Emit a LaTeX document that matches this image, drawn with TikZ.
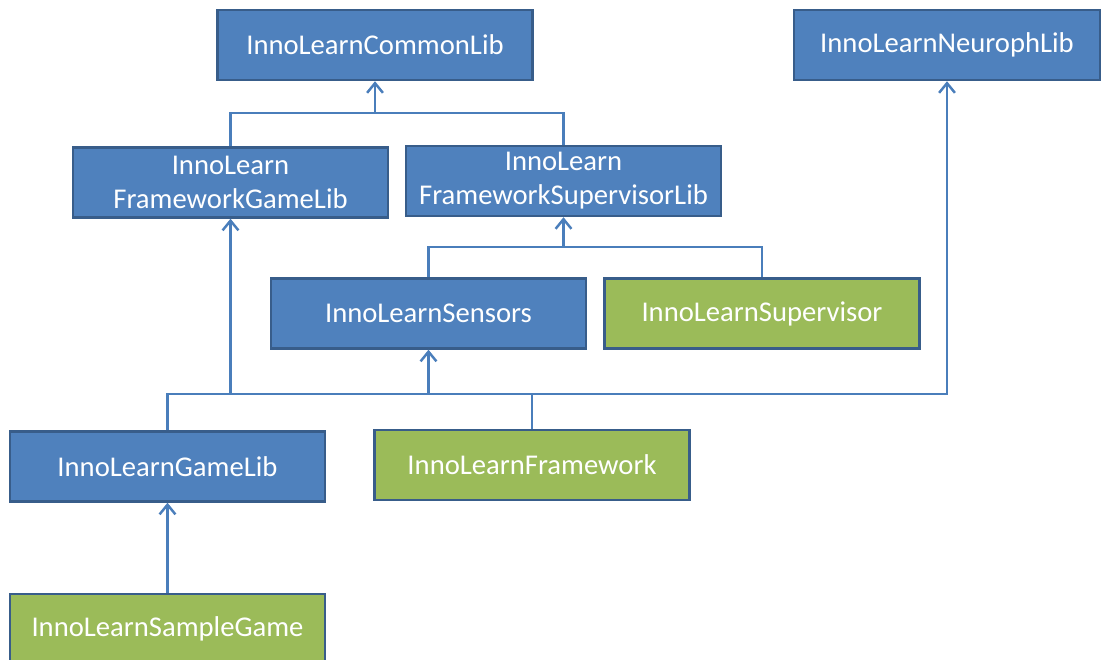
\documentclass[tikz,border=0pt]{standalone}
\usepackage{fontspec}
\setmainfont{Carlito}
\usetikzlibrary{arrows.meta}
\definecolor{boxblue}{HTML}{4F81BD}
\definecolor{boxgreen}{HTML}{9BBB59}
\definecolor{edgeblue}{HTML}{385D8A}
\definecolor{lineblue}{HTML}{4A7EBB}
\begin{document}
\begin{tikzpicture}[x=0.02cm, y=-0.02cm,
        lib/.style={rectangle, draw=edgeblue, line width=1.4pt, fill=boxblue, text=white,
            minimum width=6.3cm, minimum height=1.4cm, inner sep=0pt, align=center,
            font=\fontsize{16.3}{19.3}\selectfont},
        app/.style={lib, fill=boxgreen},
        link/.style={draw=lineblue, line width=1.4pt},
        uses/.style={link, -{Straight Barb[length=5.5pt, width=9pt]}}]
        \useasboundingbox (0,0) rectangle (1104,659);
        % Nodes
        \node[lib] (common) at (375,45) {InnoLearnCommonLib};
        \node[lib, minimum width=6.12cm] (neuroph) at (947,45) {InnoLearnNeurophLib};
        \node[lib] (fgame) at (230.5,182.5) {InnoLearn\\FrameworkGameLib};
        \node[lib] (fsup) at (563.5,181) {InnoLearn\\FrameworkSupervisorLib};
        \node[lib] (sensors) at (428.5,313.5) {InnoLearnSensors};
        \node[app] (supervisor) at (762,313.5) {InnoLearnSupervisor};
        \node[lib] (gamelib) at (167.5,466.5) {InnoLearnGameLib};
        \node[app] (framework) at (532,465) {InnoLearnFramework};
        \node[app] (sample) at (167.5,629) {InnoLearnSampleGame};

        % Junctions
        \coordinate (jcommon) at (375,113);
        \coordinate (jsup) at (563.5,247);
        \coordinate (jbus) at (532,394);

        % Edges
        \draw[link] (fgame.north) |- (jcommon) -| (fsup.north);
        \draw[uses] (jcommon) -- (common.south);
        \draw[link] (sensors.north) |- (jsup) -| (supervisor.north);
        \draw[uses] (jsup) -- (fsup.south);
        \draw[link] (framework.north) -- (jbus);
        \draw[uses] (gamelib.north) |- (jbus) -| (neuroph.south);
        \draw[uses] (fgame.south |- jbus) -- (fgame.south);
        \draw[uses] (sensors.south |- jbus) -- (sensors.south);
        \draw[uses] (sample.north) -- (gamelib.south);
\end{tikzpicture}
\end{document}
